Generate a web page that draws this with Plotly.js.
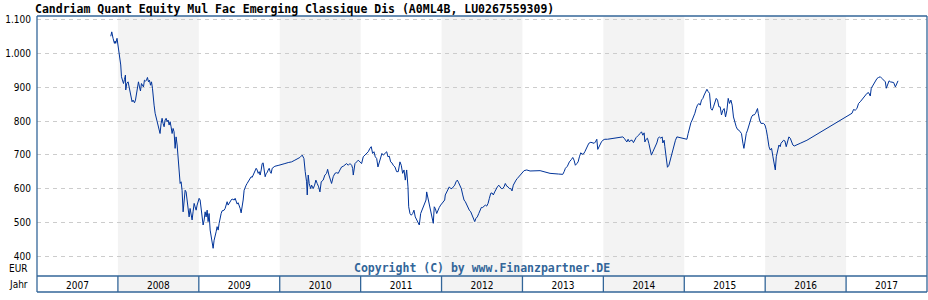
<!DOCTYPE html>
<html>
<head>
<meta charset="utf-8">
<script src="https://cdn.plot.ly/plotly-3.0.1.min.js"></script>
<style>html,body{margin:0;padding:0;background:#fff;}#chart{width:928px;height:300px;}</style>
</head>
<body>
<div id="chart"></div>
<script>
// Time in decimal years, price in EUR
var times = [
2007.912,2007.924,2007.940,2007.957,2007.965,2007.973,2007.989,2007.998,2008.011,2008.023,
2008.035,2008.044,2008.056,2008.069,2008.081,2008.093,2008.097,2008.109,2008.126,2008.138,
2008.150,2008.163,2008.175,2008.187,2008.205,2008.217,2008.229,2008.242,2008.254,2008.267,
2008.279,2008.291,2008.304,2008.316,2008.328,2008.341,2008.353,2008.365,2008.378,2008.390,
2008.403,2008.415,2008.427,2008.435,2008.447,2008.460,2008.472,2008.484,2008.497,2008.509,
2008.521,2008.534,2008.546,2008.558,2008.571,2008.583,2008.596,2008.608,2008.620,2008.633,
2008.645,2008.657,2008.670,2008.682,2008.694,2008.707,2008.719,2008.732,2008.744,2008.756,
2008.769,2008.781,2008.793,2008.806,2008.818,2008.831,2008.843,2008.855,2008.868,2008.880,
2008.892,2008.905,2008.917,2008.929,2008.942,2008.954,2008.967,2008.979,2008.991,2009.004,
2009.016,2009.028,2009.041,2009.053,2009.066,2009.078,2009.090,2009.103,2009.115,2009.127,
2009.140,2009.152,2009.165,2009.177,2009.189,2009.202,2009.214,2009.226,2009.239,2009.251,
2009.263,2009.276,2009.288,2009.313,2009.325,2009.338,2009.350,2009.362,2009.375,2009.387,
2009.400,2009.412,2009.437,2009.449,2009.461,2009.474,2009.486,2009.498,2009.511,2009.523,
2009.536,2009.548,2009.560,2009.573,2009.585,2009.597,2009.610,2009.622,2009.635,2009.647,
2009.659,2009.672,2009.684,2009.696,2009.709,2009.721,2009.734,2009.746,2009.758,2009.771,
2009.783,2009.795,2009.808,2009.820,2009.833,2009.845,2009.857,2009.870,2009.882,2009.894,
2009.907,2009.919,2009.940,2009.990,2010.023,2010.064,2010.105,2010.147,2010.187,2010.228,
2010.249,2010.278,2010.299,2010.315,2010.332,2010.340,2010.352,2010.364,2010.382,2010.394,
2010.414,2010.431,2010.447,2010.463,2010.481,2010.497,2010.513,2010.537,2010.558,2010.579,
2010.592,2010.608,2010.624,2010.641,2010.661,2010.682,2010.703,2010.723,2010.744,2010.765,
2010.785,2010.806,2010.827,2010.847,2010.868,2010.889,2010.901,2010.909,2010.930,2010.951,
2010.970,2010.991,2011.012,2011.032,2011.053,2011.074,2011.094,2011.115,2011.131,2011.148,
2011.165,2011.181,2011.198,2011.214,2011.230,2011.247,2011.263,2011.280,2011.301,2011.322,
2011.338,2011.354,2011.371,2011.387,2011.403,2011.424,2011.445,2011.465,2011.486,2011.502,
2011.519,2011.536,2011.552,2011.569,2011.585,2011.594,2011.610,2011.626,2011.643,2011.659,
2011.675,2011.693,2011.709,2011.725,2011.742,2011.758,2011.774,2011.792,2011.808,2011.816,
2011.829,2011.841,2011.857,2011.873,2011.891,2011.898,2011.910,2011.923,2011.940,2011.956,
2011.972,2011.989,2012.006,2012.022,2012.039,2012.046,2012.064,2012.080,2012.096,2012.113,
2012.129,2012.145,2012.163,2012.179,2012.195,2012.212,2012.228,2012.244,2012.262,2012.278,
2012.294,2012.311,2012.327,2012.343,2012.361,2012.377,2012.393,2012.410,2012.426,2012.442,
2012.460,2012.476,2012.492,2012.509,2012.525,2012.541,2012.558,2012.575,2012.591,2012.608,
2012.624,2012.640,2012.657,2012.673,2012.690,2012.707,2012.723,2012.739,2012.756,2012.772,
2012.788,2012.806,2012.822,2012.838,2012.855,2012.871,2012.887,2012.905,2012.921,2012.937,
2012.954,2012.970,2012.986,2013.004,2013.020,2013.053,2013.094,2013.218,2013.341,2013.444,
2013.498,2013.515,2013.531,2013.555,2013.580,2013.605,2013.622,2013.638,2013.654,2013.672,
2013.688,2013.704,2013.721,2013.737,2013.753,2013.771,2013.787,2013.803,2013.820,2013.845,
2013.870,2013.886,2013.902,2013.919,2013.931,2013.944,2013.960,2013.976,2013.993,2014.018,
2014.050,2014.083,2014.124,2014.166,2014.207,2014.241,2014.257,2014.273,2014.290,2014.306,
2014.322,2014.339,2014.356,2014.372,2014.389,2014.405,2014.421,2014.438,2014.455,2014.471,
2014.488,2014.504,2014.513,2014.529,2014.545,2014.562,2014.578,2014.594,2014.612,2014.628,
2014.644,2014.661,2014.677,2014.693,2014.711,2014.727,2014.735,2014.751,2014.760,2014.776,
2014.792,2014.810,2014.826,2014.842,2014.859,2014.875,2014.891,2014.909,2014.949,2014.990,
2015.015,2015.032,2015.048,2015.064,2015.082,2015.098,2015.114,2015.131,2015.147,2015.163,
2015.181,2015.197,2015.213,2015.230,2015.246,2015.262,2015.280,2015.296,2015.312,2015.329,
2015.345,2015.361,2015.379,2015.395,2015.411,2015.428,2015.444,2015.460,2015.477,2015.493,
2015.510,2015.527,2015.543,2015.559,2015.576,2015.592,2015.608,2015.626,2015.642,2015.658,
2015.675,2015.691,2015.707,2015.725,2015.737,2015.750,2015.766,2015.782,2015.799,2015.815,
2015.831,2015.848,2015.865,2015.881,2015.898,2015.905,2015.914,2015.930,2015.948,2015.964,
2015.980,2015.997,2016.013,2016.029,2016.047,2016.063,2016.079,2016.096,2016.112,2016.125,
2016.137,2016.153,2016.170,2016.186,2016.195,2016.227,2016.244,2016.260,2016.276,2016.293,
2016.310,2016.326,2016.342,2016.359,2016.393,2016.433,2016.516,2016.598,2016.680,2016.763,
2016.845,2016.928,2017.011,2017.073,2017.092,2017.113,2017.134,2017.154,2017.175,2017.196,
2017.216,2017.237,2017.258,2017.278,2017.299,2017.311,2017.333,2017.349,2017.365,2017.382,
2017.402,2017.423,2017.444,2017.464,2017.485,2017.497,2017.514,2017.531,2017.547,2017.568,
2017.588,2017.609,2017.629,2017.642
];
var prices = [
1051,1064,1045,1030,1037,1030,1045,1030,1005,995,
966,931,916,911,923,936,892,911,916,901,
897,877,857,862,854,862,877,901,916,901,
889,911,906,901,921,918,921,929,916,921,
906,916,897,862,847,823,812,793,783,778,
763,793,808,793,783,803,808,798,803,788,
798,783,763,778,768,719,753,729,694,640,
615,620,595,531,561,595,590,566,551,516,
541,526,507,531,556,546,536,551,561,571,
566,541,521,492,507,531,516,536,502,526,
477,462,447,423,447,457,472,487,477,497,
516,526,534,536,541,551,561,551,558,561,
566,569,566,571,558,554,558,551,541,528,
546,566,595,605,610,615,620,625,630,635,
633,640,650,655,660,655,645,650,640,655,
674,676,655,635,645,647,655,660,650,645,
660,663,666,669,672,674,677,679,684,689,
692,699,689,650,620,581,640,615,600,610,
600,610,625,615,605,590,620,625,640,645,
657,640,630,615,635,645,647,645,655,664,
666,669,674,669,674,669,660,640,674,679,
684,679,674,694,699,704,709,719,724,704,
709,694,689,664,679,694,704,699,704,709,
694,696,679,676,669,664,650,650,679,669,
645,655,625,655,605,546,526,521,526,536,
516,507,502,492,526,536,546,561,566,590,
575,556,541,521,507,497,546,541,526,538,
544,551,556,561,566,581,590,595,605,600,
600,605,610,620,625,617,610,600,581,566,
561,551,541,536,531,521,512,502,512,516,
526,536,544,544,548,551,548,556,571,586,
587,581,590,600,605,610,605,600,600,605,
615,607,605,600,600,593,610,620,625,630,
635,640,645,650,653,655,652,653,645,643,
642,650,660,666,679,686,692,684,669,674,
679,694,706,702,702,709,719,729,734,737,
736,734,738,746,716,724,732,738,743,746,
746,747,749,751,751,753,749,743,738,746,
738,743,743,736,746,751,755,758,763,768,
758,765,738,746,749,734,714,699,709,716,
724,735,749,753,749,753,735,743,724,684,
663,669,684,699,714,729,743,753,751,749,
746,746,763,783,795,803,812,823,837,847,
852,847,862,867,877,887,894,887,882,837,
832,842,857,867,862,842,842,818,832,837,
812,832,867,852,862,847,812,793,783,775,
773,768,763,734,719,738,763,773,788,803,
812,818,818,823,832,837,823,803,793,794,
793,788,775,753,724,714,719,694,666,655,
694,709,729,724,734,743,741,724,743,753,
749,738,729,726,729,734,743,755,765,778,
791,803,815,823,834,832,837,852,857,864,
870,877,882,884,874,897,906,911,919,926,
929,931,926,921,916,897,911,919,916,916,
914,901,914,919
];
var years = ['2007','2008','2009','2010','2011','2012','2013','2014','2015','2016','2017'];
var shadedYears = ['2008','2010','2012','2014','2016'];
var yTickVals = [400,500,600,700,800,900,1000,1100];
var yTickText = ['400','500','600','700','800','900','1.000','1.100'];
var titleText = 'Candriam Quant Equity Mul Fac Emerging Classique Dis (A0ML4B, LU0267559309)';
var copyrightText = 'Copyright (C) by www.Finanzpartner.DE';

var X0 = 2007, X1 = 2018;
var rowBottom = -0.0615; // year table row below the plot (paper units)
var borderColor = '#336699';
var labelFont = {family: 'DejaVu Sans Condensed, DejaVu Sans, sans-serif', size: 10, color: '#000'};

function px(yr) { return (yr - X0) / (X1 - X0); }

var shapes = [];
shadedYears.forEach(function (y) {
  var s = parseInt(y, 10);
  shapes.push({type: 'rect', xref: 'paper', yref: 'paper', x0: px(s), x1: px(s + 1), y0: rowBottom, y1: 1,
    fillcolor: '#f3f3f3', line: {width: 0}, layer: 'below'});
});
// outer border and table lines
shapes.push({type: 'line', xref: 'paper', yref: 'paper', x0: 0, x1: 0, y0: rowBottom, y1: 1, line: {color: borderColor, width: 1.3}});
shapes.push({type: 'line', xref: 'paper', yref: 'paper', x0: 1, x1: 1, y0: rowBottom, y1: 1, line: {color: borderColor, width: 1.3}});
shapes.push({type: 'line', xref: 'paper', yref: 'paper', x0: 0, x1: 1, y0: 1, y1: 1, line: {color: borderColor, width: 1.3}});
shapes.push({type: 'line', xref: 'paper', yref: 'paper', x0: 0, x1: 1, y0: 0, y1: 0, line: {color: borderColor, width: 1.3}});
shapes.push({type: 'line', xref: 'paper', yref: 'paper', x0: 0, x1: 1, y0: rowBottom, y1: rowBottom, line: {color: borderColor, width: 1.3}});
years.forEach(function (y, i) {
  if (i === 0) return;
  var s = parseInt(y, 10);
  shapes.push({type: 'line', xref: 'paper', yref: 'paper', x0: px(s), x1: px(s), y0: rowBottom, y1: 0, line: {color: borderColor, width: 1.3}});
});

var trace = {
  x: times, y: prices, type: 'scatter', mode: 'lines',
  line: {color: '#003399', width: 1}, hoverinfo: 'skip'
};

var layout = {
  width: 928, height: 300,
  margin: {l: 37, r: 1, t: 16, b: 24, pad: 0},
  paper_bgcolor: '#ffffff', plot_bgcolor: 'rgba(0,0,0,0)',
  showlegend: false,
  title: {
    text: '<b>' + titleText + '</b>',
    x: 35 / 928, xanchor: 'left', xref: 'container',
    y: 1 - 9 / 300, yanchor: 'middle', yref: 'container',
    font: {family: 'DejaVu Sans Mono, monospace', size: 11.5, color: '#000'}
  },
  xaxis: {
    type: 'linear', range: [X0, X1], fixedrange: true,
    showgrid: false, zeroline: false, showline: false, ticks: '',
    tickvals: years.map(function (y) { return parseInt(y, 10) + 0.5; }),
    ticktext: years, tickfont: labelFont, ticklabelstandoff: 2
  },
  yaxis: {
    range: [341, 1111], fixedrange: true,
    showgrid: true, gridcolor: '#cccccc', gridwidth: 1, griddash: '4px,4px',
    zeroline: false, showline: false, ticks: '',
    tickvals: yTickVals, ticktext: yTickText, tickfont: labelFont, ticklabelstandoff: 5
  },
  shapes: shapes,
  annotations: [
    {text: 'EUR', xref: 'paper', yref: 'paper', x: -7 / 890, y: 8 / 260, xanchor: 'right', yanchor: 'middle', showarrow: false, font: labelFont},
    {text: 'Jahr', xref: 'paper', yref: 'paper', x: -7 / 890, y: -8.5 / 260, xanchor: 'right', yanchor: 'middle', showarrow: false, font: labelFont},
    {text: '<b>' + copyrightText + '</b>', xref: 'paper', yref: 'paper', x: 0.5, y: 8 / 260, xanchor: 'center', yanchor: 'middle', showarrow: false,
      font: {family: 'DejaVu Sans Mono, monospace', size: 11.5, color: '#336699'}}
  ]
};

Plotly.newPlot('chart', [trace], layout, {staticPlot: true, displayModeBar: false});
</script>
</body>
</html>
